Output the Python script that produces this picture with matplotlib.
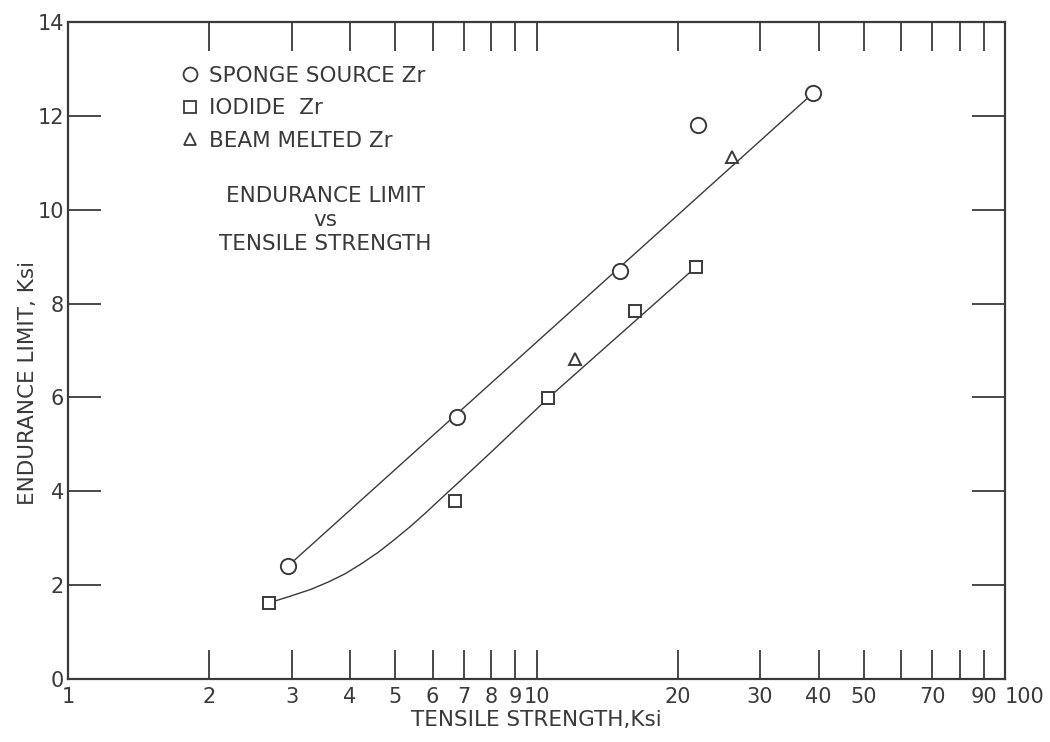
"""Endurance limit vs tensile strength for Zr (sponge, iodide, beam melted)."""

import matplotlib
import matplotlib.ticker as mticker
from matplotlib.lines import Line2D

matplotlib.use("Agg")
import matplotlib.pyplot as plt  # noqa: E402

INK = "#3a3a3a"

# measured points (tensile strength Ksi, endurance limit Ksi)
sponge_x = [2.95, 6.77, 15.1, 22.1, 39.0]
sponge_y = [2.41, 5.58, 8.69, 11.80, 12.49]
iodide_x = [2.68, 6.70, 10.6, 16.2, 21.9]
iodide_y = [1.62, 3.79, 5.99, 7.84, 8.78]
beam_x = [12.1, 26.1]
beam_y = [6.82, 11.12]

# faired curves drawn on the original chart
sponge_fit_x = [2.95, 39.0]
sponge_fit_y = [2.41, 12.49]
iodide_fit_x = [2.68, 2.95, 3.30, 3.60, 3.90, 4.22, 4.58, 4.96, 5.38,
                5.80, 6.23, 6.87, 8.11, 10.6, 21.9]
iodide_fit_y = [1.62, 1.75, 1.91, 2.07, 2.24, 2.45, 2.69, 2.96, 3.25,
                3.54, 3.83, 4.22, 4.89, 5.99, 8.78]

x_ticks = [1, 2, 3, 4, 5, 6, 7, 8, 9, 10, 20, 30, 40, 50, 60, 70, 80, 90, 100]
x_tick_labels = ["1", "2", "3", "4", "5", "6", "7", "8", "9", "10",
                 "20", "30", "40", "50", "", "70", "", "90", "100"]
y_ticks = [0, 2, 4, 6, 8, 10, 12, 14]

series_labels = ["SPONGE SOURCE Zr", "IODIDE  Zr", "BEAM MELTED Zr"]


def main() -> None:
    plt.rcParams["font.family"] = "DejaVu Sans"
    fig = plt.figure(figsize=(10.5, 7.42), dpi=100)
    ax = fig.add_axes([68 / 1050, 1 - 679 / 742, 937 / 1050, 657 / 742])

    line_kw = dict(color=INK, lw=1.0, zorder=2)
    ax.plot(sponge_fit_x, sponge_fit_y, **line_kw)
    ax.plot(iodide_fit_x, iodide_fit_y, **line_kw)

    mk = dict(ls="none", mfc="white", mec=INK, mew=1.4, zorder=3)
    ax.plot(sponge_x, sponge_y, marker="o", ms=11, **mk)
    ax.plot(iodide_x, iodide_y, marker="s", ms=9, **mk)
    ax.plot(beam_x, beam_y, marker="^", ms=9, **mk)

    ax.set_xscale("log")
    ax.set_xlim(1, 100)
    ax.set_ylim(0, 14)
    ax.xaxis.set_major_locator(mticker.FixedLocator(x_ticks))
    ax.xaxis.set_major_formatter(mticker.FixedFormatter(x_tick_labels))
    ax.xaxis.set_minor_locator(mticker.NullLocator())
    ax.yaxis.set_major_locator(mticker.FixedLocator(y_ticks))

    ax.tick_params(axis="both", which="major", direction="in", colors=INK,
                   width=1.3, labelsize=15, top=True, right=True)
    ax.tick_params(axis="x", length=21, pad=6)
    ax.tick_params(axis="y", length=24, pad=3)
    for sp in ax.spines.values():
        sp.set_color(INK)
        sp.set_linewidth(1.6)
    # the "100" label sits just right of the corner, as in the original
    ax.get_xticklabels()[-1].set_horizontalalignment("left")

    ax.set_xlabel("TENSILE STRENGTH,Ksi", fontsize=15.5, color=INK,
                  labelpad=2)
    ax.set_ylabel("ENDURANCE LIMIT, Ksi", fontsize=15.5, color=INK)
    ax.yaxis.set_label_coords(-0.032, 0.45)

    handles = [
        Line2D([], [], ls="none", marker="o", ms=10, mfc="white", mec=INK, mew=1.3),
        Line2D([], [], ls="none", marker="s", ms=9, mfc="white", mec=INK, mew=1.3),
        Line2D([], [], ls="none", marker="^", ms=8, mfc="white", mec=INK, mew=1.3),
    ]
    leg = ax.legend(handles, series_labels, loc="upper left",
                    bbox_to_anchor=(0.11, 0.95), frameon=False,
                    fontsize=15.5, handlelength=0.8, handletextpad=0.45,
                    labelspacing=0.58, borderpad=0.0)
    for t in leg.get_texts():
        t.set_color(INK)

    ax.text(0.275, 0.699, "ENDURANCE LIMIT\nvs\nTENSILE STRENGTH",
            transform=ax.transAxes, ha="center", va="center",
            multialignment="center", fontsize=15.5, color=INK,
            linespacing=1.25)

    fig.savefig("out.png", dpi=100, facecolor="white")
    plt.close(fig)


if __name__ == "__main__":
    main()
